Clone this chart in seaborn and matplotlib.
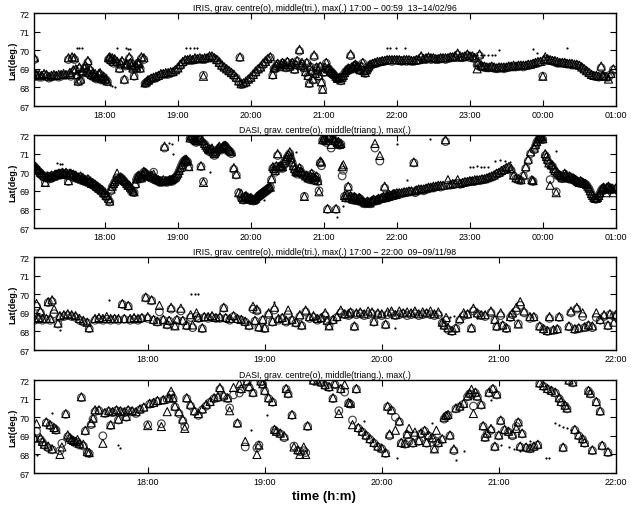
import numpy as np
import pandas as pd
import matplotlib
matplotlib.use("Agg")
import matplotlib.pyplot as plt
import seaborn as sns

# rows: (minutes after 17:00, grav. centre lat, middle lat)
iris96 = [
    (0, 68.6, 68.7), (1, 68.55, 68.65), (2, 69.5, 69.6), (3, 68.65, 68.7), (4, 68.6, 68.7),
    (6, 68.55, 68.7), (8, 68.55, 68.65), (10, 68.65, 68.75), (12, 68.6, 68.7), (14, 68.5, 68.6),
    (16, 68.55, 68.65), (18, 68.6, 68.7), (20, 68.6, 68.65), (22, 68.55, 68.7), (24, 68.6, 68.7),
    (26, 68.65, 68.75), (28, 68.65, 68.7), (30, 69.5, 69.6), (31, 68.7, 68.8), (32, 68.6, 68.7),
    (33, 69.55, 69.65), (34, 68.85, 68.95), (35, 69.5, 69.6), (36, 68.9, 69.0), (37, 68.6, 68.7),
    (38, 68.3, 68.35), (39, 69.0, 69.1), (40, 68.35, 68.45), (41, 68.75, 68.85), (42, 68.8, 68.9),
    (43, 69.0, 69.05), (44, 69.1, 69.2), (45, 68.8, 68.9), (46, 69.35, 69.45), (47, 68.7, 68.8),
    (48, 68.9, 69.0), (49, 68.6, 68.7), (50, 68.7, 68.8), (51, 68.55, 68.65), (52, 68.6, 68.75),
    (53, 68.45, 68.55), (54, 68.5, 68.6), (55, 68.65, 68.75), (56, 68.7, 68.8), (57, 68.4, 68.5),
    (58, 68.45, 68.5), (59, 68.55, 68.6), (60, 68.35, 68.45), (61, 68.4, 68.45), (62, 68.3, 68.35),
    (63, 69.5, 69.6), (64, 69.55, 69.65), (65, 69.4, 69.5), (66, 69.5, 69.6), (67, 69.3, 69.4),
    (68, 69.45, 69.55), (70, 69.3, 69.4), (72, 69.0, 69.05), (73, 69.2, 69.3), (74, 69.35, 69.45),
    (76, 68.4, 68.45), (77, 69.15, 69.25), (78, 69.2, 69.3), (80, 69.55, 69.65), (81, 69.3, 69.35),
    (82, 69.1, 69.2), (83, 68.95, 69.05), (84, 68.6, 68.65), (85, 69.1, 69.2), (86, 69.0, 69.1),
    (87, 69.3, 69.35), (88, 69.2, 69.3), (89, 69.0, 69.05), (90, 69.55, 69.65), (92, 69.5, 69.6),
    (93, 68.2, 68.25), (94, 68.25, 68.3), (95, 68.3, 68.4), (96, 68.35, 68.4), (98, 68.45, 68.5),
    (100, 68.5, 68.55), (102, 68.5, 68.6), (104, 68.6, 68.65), (106, 68.65, 68.75), (108, 68.7, 68.75),
    (110, 68.7, 68.8), (112, 68.7, 68.8), (114, 68.75, 68.85), (116, 68.8, 68.85), (118, 68.9, 68.95),
    (120, 69.0, 69.05), (122, 69.15, 69.25), (124, 69.3, 69.4), (126, 69.4, 69.5), (128, 69.45, 69.5),
    (130, 69.45, 69.55), (132, 69.45, 69.5), (134, 69.5, 69.6), (136, 69.5, 69.55), (138, 69.55, 69.6),
    (140, 69.5, 69.55), (141, 68.65, 68.6), (142, 69.5, 69.6), (144, 69.55, 69.6), (146, 69.6, 69.7),
    (148, 69.6, 69.7), (150, 69.55, 69.6), (152, 69.45, 69.5), (154, 69.3, 69.35), (156, 69.15, 69.2),
    (158, 69.05, 69.1), (160, 68.95, 69.0), (162, 68.85, 68.9), (164, 68.75, 68.8), (166, 68.6, 68.7),
    (168, 68.5, 68.55), (170, 68.3, 68.35), (171, 69.6, 69.65), (172, 68.15, 68.2), (174, 68.2, 68.25),
    (176, 68.25, 68.3), (178, 68.4, 68.45), (180, 68.5, 68.55), (182, 68.65, 68.7), (184, 68.8, 68.85),
    (186, 68.95, 69.0), (188, 69.05, 69.1), (190, 69.2, 69.3), (192, 69.35, 69.4), (194, 69.5, 69.55),
    (196, 69.6, 69.65), (198, 68.65, 68.7), (199, 69.0, 69.05), (200, 69.0, 69.1), (201, 69.15, 69.2),
    (202, 69.25, 69.3), (204, 69.1, 69.15), (205, 69.2, 69.25), (206, 69.3, 69.35), (208, 69.2, 69.25),
    (209, 69.05, 69.1), (210, 69.35, 69.4), (212, 69.1, 69.15), (213, 69.2, 69.25), (214, 69.3, 69.35),
    (216, 68.95, 69.0), (217, 69.2, 69.25), (218, 69.4, 69.45), (220, 69.95, 70.05), (221, 69.15, 69.2),
    (222, 69.25, 69.35), (224, 69.05, 69.1), (225, 68.8, 68.85), (226, 69.3, 69.35), (227, 68.6, 68.65),
    (228, 68.2, 68.25), (229, 69.1, 69.15), (230, 68.85, 68.9), (231, 68.4, 68.45), (232, 69.65, 69.75),
    (233, 68.7, 68.75), (234, 69.05, 69.1), (235, 68.9, 68.95), (236, 68.6, 68.65), (237, 69.1, 69.15),
    (238, 68.25, 68.3), (239, 67.9, 67.9), (240, 68.8, 68.85), (241, 69.0, 69.1), (242, 69.3, 69.35),
    (243, 68.95, 69.0), (244, 69.0, 69.05), (245, 68.8, 68.85), (246, 68.85, 68.9), (247, 68.75, 68.8),
    (248, 68.7, 68.75), (249, 68.6, 68.7), (250, 68.55, 68.6), (251, 68.45, 68.5), (252, 68.45, 68.5),
    (253, 68.5, 68.55), (254, 68.35, 68.4), (255, 68.5, 68.55), (256, 68.6, 68.65), (257, 68.75, 68.8),
    (258, 68.85, 68.9), (259, 68.9, 68.95), (260, 69.0, 69.05), (261, 68.95, 69.0), (262, 69.7, 69.8),
    (263, 69.05, 69.1), (264, 69.0, 69.1), (265, 69.15, 69.2), (266, 69.2, 69.25), (267, 69.05, 69.1),
    (268, 69.1, 69.15), (269, 68.95, 69.0), (270, 68.9, 68.95), (271, 69.1, 69.15), (272, 69.3, 69.35),
    (273, 68.85, 68.9), (274, 68.75, 68.8), (275, 68.9, 68.95), (276, 69.0, 69.05), (277, 69.1, 69.15),
    (278, 69.2, 69.25), (280, 69.25, 69.3), (282, 69.3, 69.35), (284, 69.3, 69.4), (286, 69.35, 69.4),
    (288, 69.4, 69.45), (290, 69.4, 69.45), (292, 69.45, 69.5), (294, 69.45, 69.5), (296, 69.4, 69.5),
    (298, 69.45, 69.5), (300, 69.45, 69.5), (302, 69.45, 69.5), (304, 69.4, 69.45), (306, 69.45, 69.5),
    (308, 69.4, 69.5), (310, 69.45, 69.5), (312, 69.4, 69.45), (314, 69.4, 69.45), (316, 69.45, 69.5),
    (318, 69.45, 69.5), (320, 69.6, 69.7), (322, 69.5, 69.55), (324, 69.5, 69.6), (326, 69.55, 69.65),
    (328, 69.5, 69.6), (330, 69.55, 69.6), (332, 69.5, 69.55), (334, 69.5, 69.55), (336, 69.55, 69.6),
    (338, 69.55, 69.6), (340, 69.5, 69.6), (342, 69.55, 69.6), (344, 69.6, 69.65), (346, 69.6, 69.65),
    (348, 69.6, 69.7), (350, 69.75, 69.85), (352, 69.6, 69.65), (354, 69.6, 69.65), (356, 69.65, 69.7),
    (358, 69.7, 69.8), (360, 69.6, 69.7), (362, 69.65, 69.7), (364, 69.55, 69.6), (366, 69.2, 69.0),
    (367, 69.3, 69.35), (368, 69.7, 69.8), (369, 69.15, 69.2), (370, 69.1, 69.15), (372, 69.1, 69.15),
    (374, 69.05, 69.1), (376, 69.05, 69.1), (378, 69.1, 69.15), (380, 69.05, 69.1), (382, 69.0, 69.05),
    (384, 69.05, 69.1), (386, 69.05, 69.1), (388, 69.0, 69.1), (390, 69.05, 69.1), (392, 69.1, 69.15),
    (394, 69.1, 69.15), (396, 69.1, 69.2), (398, 69.1, 69.15), (400, 69.15, 69.2), (402, 69.15, 69.2),
    (404, 69.1, 69.2), (406, 69.15, 69.2), (408, 69.2, 69.25), (410, 69.2, 69.25), (412, 69.25, 69.3),
    (414, 69.3, 69.35), (416, 69.3, 69.4), (418, 69.35, 69.4), (420, 68.6, 68.6), (421, 69.4, 69.5),
    (422, 69.5, 69.65), (424, 69.45, 69.55), (426, 69.45, 69.5), (428, 69.4, 69.45), (430, 69.35, 69.45),
    (432, 69.3, 69.4), (434, 69.3, 69.35), (436, 69.3, 69.35), (438, 69.3, 69.35), (440, 69.25, 69.3),
    (442, 69.25, 69.3), (444, 69.2, 69.3), (446, 69.2, 69.25), (448, 69.2, 69.25), (450, 69.15, 69.2),
    (452, 69.05, 69.1), (454, 68.95, 69.0), (456, 68.85, 68.9), (458, 68.75, 68.8), (460, 68.65, 68.7),
    (462, 68.6, 68.65), (464, 68.6, 68.65), (466, 68.55, 68.6), (468, 69.05, 69.15), (469, 68.6, 68.65),
    (470, 68.6, 68.65), (472, 68.55, 68.6), (474, 68.55, 68.45), (476, 68.7, 68.75), (478, 68.95, 69.0),
]
iris96_max = [
    (4, 69.5), (37, 70.1), (39, 70.1), (41, 70.1), (64, 68.15), (66, 68.05), (68, 68.0), (70, 70.1),
    (77, 70.1), (79, 70.05), (81, 70.05), (127, 70.1), (130, 70.1), (133, 70.1), (136, 70.1),
    (292, 70.1), (294, 70.1), (299, 70.1), (307, 70.1), (363, 69.72), (366, 69.72), (369, 69.72),
    (372, 69.72), (375, 69.72), (378, 69.72), (381, 69.72), (384, 70.0), (412, 70.05), (415, 69.85),
    (440, 70.1),
]

dasi96 = [
    (0, 70.4, 70.5), (1, 70.35, 70.45), (2, 70.3, 70.35), (3, 70.2, 70.3), (4, 70.15, 70.2),
    (5, 70.05, 70.15), (6, 70.0, 70.1), (7, 69.9, 70.0), (8, 69.85, 69.95), (9, 69.8, 69.9),
    (10, 69.75, 69.8), (11, 69.45, 69.45), (12, 69.8, 69.75), (13, 69.7, 69.8), (14, 69.75, 69.7),
    (15, 69.65, 69.75), (16, 69.8, 69.85), (17, 69.7, 69.8), (18, 69.75, 69.8), (19, 69.8, 69.9),
    (20, 69.85, 69.9), (21, 69.8, 69.9), (22, 69.9, 69.95), (23, 69.85, 69.95), (24, 69.85, 69.9),
    (25, 69.95, 70.0), (26, 69.9, 69.95), (27, 69.85, 69.9), (28, 69.95, 70.0), (29, 69.8, 69.9),
    (30, 69.5, 69.55), (31, 69.85, 69.95), (32, 69.9, 69.95), (33, 69.75, 69.85), (34, 69.85, 69.9),
    (35, 69.7, 69.8), (36, 69.75, 69.85), (37, 69.65, 69.75), (38, 69.7, 69.75), (39, 69.6, 69.7),
    (40, 69.75, 69.8), (41, 69.55, 69.65), (42, 69.65, 69.7), (43, 69.5, 69.6), (44, 69.55, 69.6),
    (45, 69.45, 69.55), (46, 69.6, 69.65), (47, 69.4, 69.5), (48, 69.45, 69.5), (49, 69.35, 69.4),
    (50, 69.4, 69.45), (51, 69.25, 69.35), (52, 69.3, 69.35), (53, 69.15, 69.25), (54, 69.2, 69.25),
    (55, 69.05, 69.15), (56, 69.1, 69.15), (57, 68.95, 69.05), (58, 69.0, 69.05), (59, 68.8, 68.9),
    (60, 68.85, 68.9), (61, 68.65, 68.75), (62, 68.7, 68.75), (63, 68.5, 68.6), (64, 68.4, 68.45),
    (65, 69.0, 69.1), (66, 69.2, 69.25), (67, 69.3, 69.4), (68, 69.45, 69.5), (69, 69.55, 69.6),
    (70, 69.7, 69.95), (71, 69.6, 69.7), (72, 69.6, 69.65), (73, 69.7, 69.75), (74, 69.65, 69.7),
    (75, 69.55, 69.6), (76, 69.5, 69.55), (77, 69.4, 69.5), (78, 69.35, 69.4), (79, 69.25, 69.3),
    (80, 69.2, 69.3), (81, 69.1, 69.2), (82, 69.05, 69.1), (83, 68.95, 69.0), (84, 68.9, 68.95),
    (85, 69.3, 69.4), (86, 69.6, 69.65), (87, 69.75, 69.8), (88, 69.8, 69.85), (89, 69.7, 69.75),
    (90, 69.65, 69.7), (91, 69.85, 69.9), (92, 70.0, 70.05), (93, 69.95, 70.0), (94, 69.9, 69.95),
    (95, 69.8, 69.85), (96, 69.75, 69.8), (97, 69.7, 69.8), (98, 69.8, 69.85), (99, 69.65, 69.75),
    (100, 70.0, 69.9), (101, 69.6, 69.7), (102, 69.6, 69.65), (103, 69.55, 69.6), (104, 69.55, 69.6),
    (105, 69.45, 69.55), (106, 69.5, 69.55), (107, 69.45, 69.5), (108, 69.55, 69.6), (109, 71.3, 71.4),
    (110, 69.5, 69.55), (111, 69.45, 69.55), (112, 69.5, 69.55), (113, 69.5, 69.6), (114, 69.55, 69.6),
    (115, 69.5, 69.6), (116, 69.6, 69.65), (117, 69.65, 69.7), (118, 69.7, 69.75), (119, 69.8, 69.85),
    (120, 69.9, 69.95), (121, 70.05, 70.1), (122, 70.2, 70.25), (123, 70.35, 70.4), (124, 70.5, 70.55),
    (125, 70.6, 70.65), (126, 70.65, 70.7), (127, 70.6, 70.7), (128, 70.55, 70.6), (129, 70.3, 70.3),
    (130, 71.8, 71.85), (131, 71.9, 71.95), (132, 71.9, 71.95), (133, 71.75, 71.85), (134, 71.7, 71.75),
    (135, 71.6, 71.7), (136, 71.65, 71.7), (137, 71.75, 71.8), (138, 71.8, 71.85), (139, 70.3, 70.35),
    (140, 71.6, 71.7), (141, 69.5, 69.45), (142, 71.5, 71.55), (143, 71.4, 71.45), (144, 71.3, 71.35),
    (145, 71.2, 71.25), (146, 71.1, 71.2), (147, 71.15, 71.25), (148, 71.2, 71.3), (149, 71.0, 71.1),
    (150, 70.9, 71.0), (151, 71.0, 71.1), (152, 71.1, 71.2), (153, 71.2, 71.3), (154, 71.3, 71.4),
    (155, 71.25, 71.3), (156, 71.2, 71.3), (157, 71.3, 71.4), (158, 71.35, 71.45), (159, 71.4, 71.45),
    (160, 71.3, 71.4), (161, 71.2, 71.3), (162, 71.15, 71.2), (163, 71.1, 71.15), (164, 71.0, 71.1),
    (166, 70.15, 70.25), (168, 69.85, 69.9), (170, 68.9, 68.9), (172, 68.6, 68.85), (173, 68.55, 68.65),
    (174, 68.5, 68.55), (175, 68.65, 68.7), (176, 68.7, 68.75), (177, 68.6, 68.65), (178, 68.55, 68.6),
    (179, 68.5, 68.6), (180, 68.6, 68.65), (181, 68.5, 68.55), (182, 68.45, 68.5), (183, 68.5, 68.55),
    (184, 68.55, 68.6), (185, 68.6, 68.7), (186, 68.7, 68.75), (187, 68.75, 68.8), (188, 68.8, 68.85),
    (189, 68.85, 68.9), (190, 68.9, 68.95), (191, 68.95, 69.0), (192, 69.0, 69.05), (193, 69.05, 69.1),
    (194, 69.1, 69.15), (195, 69.15, 69.2), (196, 69.2, 69.2), (197, 69.6, 69.65), (198, 70.2, 70.3),
    (199, 70.1, 70.2), (200, 70.0, 70.1), (201, 70.3, 70.35), (202, 70.9, 71.0), (203, 70.2, 70.3),
    (204, 70.3, 70.35), (205, 70.25, 70.3), (206, 70.2, 70.3), (207, 70.45, 70.5), (208, 70.6, 70.65),
    (209, 70.7, 70.75), (210, 70.8, 70.85), (211, 70.9, 70.95), (212, 71.0, 71.1), (213, 70.7, 70.8),
    (214, 70.5, 70.55), (215, 70.3, 70.35), (216, 70.1, 70.2), (217, 70.0, 70.05), (218, 69.9, 70.0),
    (219, 70.05, 70.1), (220, 70.2, 70.25), (221, 70.0, 70.05), (222, 69.95, 70.0), (223, 69.85, 69.9),
    (224, 68.7, 68.7), (225, 69.75, 69.8), (226, 69.8, 69.85), (227, 69.65, 69.7), (228, 69.6, 69.7),
    (229, 69.75, 69.8), (230, 69.9, 69.95), (231, 69.7, 69.75), (232, 69.55, 69.6), (233, 69.6, 69.7),
    (234, 69.75, 69.8), (235, 69.5, 69.55), (236, 69.0, 68.95), (237, 70.5, 70.6), (238, 70.35, 70.55),
    (239, 71.7, 71.75), (240, 71.8, 71.85), (241, 71.7, 71.8), (242, 71.6, 71.7), (243, 68.0, 68.05),
    (244, 71.85, 71.9), (245, 71.9, 71.95), (246, 71.3, 71.5), (247, 71.8, 71.85), (248, 71.75, 71.8),
    (249, 71.65, 71.7), (250, 68.0, 68.05), (251, 71.55, 71.6), (252, 71.6, 71.65), (253, 71.45, 71.5),
    (254, 71.5, 71.55), (255, 69.8, 70.3), (256, 70.1, 70.4), (257, 68.7, 68.75), (258, 68.6, 68.65),
    (259, 68.75, 68.8), (260, 69.2, 69.25), (261, 68.6, 68.65), (262, 68.7, 68.75), (263, 68.55, 68.6),
    (264, 68.5, 68.55), (265, 68.65, 68.7), (266, 68.6, 68.65), (267, 68.5, 68.55), (268, 68.45, 68.5),
    (269, 68.6, 68.65), (270, 68.55, 68.6), (271, 68.45, 68.5), (272, 68.4, 68.45), (273, 68.35, 68.4),
    (274, 68.3, 68.35), (275, 68.35, 68.4), (276, 68.4, 68.45), (277, 68.35, 68.4), (278, 68.3, 68.35),
    (279, 68.4, 68.45), (280, 68.45, 68.5), (281, 68.5, 68.55), (282, 71.3, 71.55), (283, 68.45, 68.5),
    (284, 68.5, 68.55), (285, 68.55, 68.6), (286, 70.6, 70.9), (287, 68.55, 68.6), (288, 68.6, 68.65),
    (289, 68.65, 68.7), (290, 69.15, 69.25), (291, 68.6, 68.65), (292, 68.7, 68.75), (293, 68.65, 68.7),
    (294, 68.75, 68.8), (295, 68.7, 68.75), (296, 68.7, 68.75), (297, 68.8, 68.85), (298, 68.8, 68.85),
    (299, 68.75, 68.8), (300, 68.85, 68.9), (302, 68.8, 68.9), (304, 68.85, 68.9), (306, 68.9, 68.95),
    (308, 68.9, 68.95), (310, 68.95, 69.0), (312, 68.95, 69.0), (314, 70.5, 70.55), (315, 68.9, 69.0),
    (316, 69.0, 69.05), (318, 69.05, 69.1), (320, 69.05, 69.1), (322, 69.0, 69.1), (324, 69.1, 69.15),
    (326, 69.1, 69.2), (328, 69.15, 69.2), (330, 69.15, 69.25), (332, 69.2, 69.25), (334, 69.25, 69.3),
    (336, 69.2, 69.3), (338, 69.25, 69.3), (340, 71.65, 71.75), (342, 69.3, 69.6), (344, 69.3, 69.35),
    (346, 69.35, 69.4), (348, 69.35, 69.4), (350, 69.4, 69.6), (352, 69.35, 69.4), (354, 69.4, 69.45),
    (356, 69.45, 69.5), (358, 69.45, 69.5), (360, 69.5, 69.55), (362, 69.5, 69.55), (364, 69.5, 69.6),
    (366, 69.55, 69.6), (368, 69.55, 69.6), (370, 69.6, 69.65), (372, 69.6, 69.65), (374, 69.65, 69.7),
    (376, 69.7, 69.75), (378, 69.75, 69.8), (380, 69.8, 69.85), (382, 69.9, 69.95), (384, 69.95, 70.0),
    (386, 70.0, 70.1), (388, 70.1, 70.15), (390, 70.2, 70.25), (392, 70.25, 70.3), (394, 70.1, 70.2),
    (396, 69.8, 69.85), (398, 69.65, 69.7), (400, 69.6, 69.65), (402, 69.55, 69.6), (404, 69.8, 69.85),
    (406, 70.2, 70.3), (408, 70.6, 70.7), (410, 71.0, 71.1), (411, 69.55, 69.6), (412, 69.5, 69.55),
    (413, 71.2, 71.3), (414, 71.4, 71.5), (415, 71.6, 71.65), (416, 71.7, 71.8), (417, 71.8, 71.9),
    (418, 71.85, 71.95), (419, 71.8, 71.9), (420, 71.75, 71.8), (422, 70.9, 71.0), (423, 70.8, 70.85),
    (424, 70.6, 70.7), (425, 70.45, 70.5), (426, 69.6, 69.3), (427, 70.35, 70.4), (428, 70.3, 70.4),
    (429, 70.15, 70.2), (430, 70.0, 70.1), (431, 68.95, 68.9), (432, 69.9, 70.0), (433, 69.85, 69.9),
    (434, 69.8, 69.85), (435, 69.7, 69.8), (436, 69.65, 69.7), (437, 69.75, 69.8), (438, 69.9, 69.95),
    (439, 69.8, 69.85), (440, 69.7, 69.75), (441, 69.65, 69.7), (442, 69.75, 69.8), (443, 69.7, 69.75),
    (444, 69.6, 69.65), (445, 69.65, 69.7), (446, 69.6, 69.65), (447, 69.55, 69.6), (448, 69.5, 69.55),
    (449, 69.45, 69.5), (450, 69.4, 69.45), (451, 69.5, 69.55), (452, 69.45, 69.5), (453, 69.4, 69.45),
    (454, 69.35, 69.4), (455, 69.35, 69.4), (456, 69.3, 69.35), (457, 69.2, 69.25), (458, 69.1, 69.15),
    (459, 68.95, 69.0), (460, 68.8, 68.85), (461, 68.7, 68.75), (462, 68.6, 68.65), (463, 68.55, 68.6),
    (464, 68.55, 68.6), (465, 68.6, 68.65), (466, 68.7, 68.75), (467, 68.85, 68.9), (468, 69.0, 69.05),
    (469, 69.1, 69.15), (470, 69.15, 69.2), (471, 69.05, 69.1), (472, 69.1, 68.9), (473, 69.15, 69.2),
    (474, 69.2, 69.25), (475, 69.1, 69.15), (476, 69.05, 69.1), (477, 69.1, 69.15), (478, 69.1, 68.9),
    (480, 69.1, 69.15),
]
dasi96_max = [
    (21, 70.5), (23, 70.45), (25, 70.45), (113, 71.55), (115, 71.5), (116, 71.0), (146, 70.0),
    (191, 68.5), (217, 71.1), (251, 67.6), (256, 68.2), (300, 71.5), (308, 69.6), (327, 71.8),
    (360, 70.3), (363, 70.3), (366, 70.32), (369, 70.3), (372, 70.28), (375, 70.3), (381, 70.6),
    (385, 70.65), (389, 70.6), (393, 70.55), (418, 71.85), (420, 71.9), (431, 71.15),
]

iris98 = [
    (2, 68.6, 68.7), (3, 69.35, 69.5), (4, 68.65, 68.75), (5, 69.0, 69.1), (6, 68.6, 68.7),
    (8, 68.65, 68.7), (9, 69.55, 69.6), (10, 68.6, 68.7), (11, 69.6, 69.7), (12, 68.95, 69.2),
    (14, 68.4, 68.45), (15, 68.75, 68.85), (17, 68.8, 68.9), (19, 68.85, 68.95), (21, 68.8, 68.9),
    (23, 68.75, 68.85), (25, 68.6, 68.7), (27, 68.5, 68.6), (29, 68.45, 68.5), (30, 68.15, 68.2),
    (33, 68.6, 68.7), (35, 68.65, 68.75), (37, 68.6, 68.7), (39, 68.65, 68.8), (41, 68.6, 68.7),
    (43, 68.65, 68.7), (45, 68.6, 68.7), (47, 69.45, 69.5), (48, 68.65, 68.7), (50, 69.35, 69.4),
    (51, 68.6, 68.7), (53, 68.65, 68.75), (55, 68.6, 68.7), (57, 68.7, 68.75), (59, 69.8, 69.85),
    (60, 68.7, 68.8), (62, 69.65, 69.7), (63, 68.6, 68.65), (65, 68.5, 68.55), (66, 69.05, 69.4),
    (68, 68.6, 68.65), (70, 68.35, 68.4), (71, 68.55, 68.6), (72, 69.2, 69.3), (74, 68.3, 68.3),
    (75, 68.6, 68.65), (77, 69.1, 69.25), (78, 68.55, 68.6), (80, 68.3, 68.35), (82, 68.75, 68.9),
    (83, 68.2, 68.35), (85, 68.8, 69.0), (86, 68.7, 68.75), (88, 68.15, 68.2), (89, 68.75, 68.8),
    (91, 68.7, 68.8), (93, 68.75, 68.85), (95, 68.7, 68.75), (97, 68.7, 68.8), (99, 69.25, 69.3),
    (100, 68.7, 68.75), (102, 68.6, 68.7), (104, 68.8, 68.85), (106, 68.65, 68.7), (108, 68.6, 68.65),
    (110, 68.5, 68.55), (112, 68.3, 68.35), (114, 69.2, 69.35), (115, 68.55, 68.6), (116, 69.1, 69.2),
    (117, 68.2, 68.25), (119, 68.6, 68.65), (120, 68.15, 68.2), (122, 68.9, 69.0), (124, 68.5, 68.55),
    (125, 69.15, 69.3), (127, 68.6, 68.7), (129, 68.7, 68.75), (131, 68.5, 68.6), (132, 68.9, 69.15),
    (134, 68.6, 68.65), (136, 68.45, 68.5), (138, 68.8, 68.9), (139, 68.3, 68.35), (141, 69.05, 69.15),
    (143, 68.7, 68.8), (145, 68.75, 68.85), (147, 68.6, 68.7), (149, 68.7, 68.75), (151, 68.85, 69.0),
    (152, 68.55, 68.6), (153, 68.3, 68.3), (155, 68.6, 68.65), (157, 68.75, 68.8), (159, 69.0, 69.15),
    (161, 68.9, 68.95), (163, 68.85, 68.95), (164, 69.0, 69.05), (166, 68.25, 68.3), (167, 68.9, 69.0),
    (169, 68.95, 69.05), (171, 68.85, 68.95), (173, 68.9, 69.1), (175, 68.95, 69.05), (176, 68.5, 68.55),
    (178, 68.9, 69.0), (180, 68.85, 68.95), (182, 68.35, 68.4), (183, 68.9, 69.05), (185, 68.95, 69.1),
    (187, 68.85, 68.9), (189, 68.9, 69.1), (191, 68.95, 69.0), (193, 68.85, 69.05), (195, 68.9, 69.0),
    (197, 68.95, 69.1), (199, 68.85, 68.95), (201, 68.9, 69.05), (203, 68.95, 69.0), (205, 68.9, 69.1),
    (207, 68.85, 68.95), (209, 68.9, 69.05), (211, 68.45, 68.5), (212, 68.3, 68.35), (213, 68.6, 68.75),
    (214, 68.1, 68.2), (216, 68.0, 68.05), (218, 68.15, 68.2), (220, 68.6, 68.7), (222, 68.85, 69.0),
    (224, 68.9, 68.95), (226, 68.15, 68.2), (227, 69.1, 69.25), (229, 68.95, 69.0), (231, 68.85, 68.9),
    (233, 68.8, 68.9), (236, 69.0, 69.1), (238, 68.6, 68.65), (239, 68.25, 68.3), (241, 68.85, 69.0),
    (242, 68.3, 68.35), (244, 68.15, 68.2), (246, 68.75, 68.8), (247, 68.9, 69.0), (249, 69.1, 69.3),
    (250, 68.4, 68.4), (251, 69.4, 69.6), (253, 69.0, 69.1), (256, 68.7, 68.8), (258, 68.75, 68.8),
    (261, 68.25, 68.3), (263, 68.1, 68.15), (265, 68.0, 68.05), (266, 68.7, 68.8), (268, 68.05, 68.1),
    (270, 68.1, 68.15), (271, 68.75, 68.8), (276, 68.25, 68.3), (277, 69.0, 69.1), (279, 68.1, 68.15),
    (280, 69.2, 69.3), (281, 68.15, 68.2), (283, 68.8, 69.0), (284, 68.2, 68.25), (286, 68.3, 68.35),
    (288, 68.2, 68.3), (290, 68.75, 69.0), (292, 68.6, 68.65), (294, 68.8, 68.9), (296, 68.3, 68.35),
    (297, 68.9, 68.95), (299, 68.8, 68.5), (300, 68.85, 68.9),
]
iris98_max = [
    (15, 68.1), (40, 69.7), (82, 70.0), (84, 70.0), (86, 70.0), (125, 69.6), (187, 68.2),
    (215, 68.8), (217, 68.85), (229, 68.7),
]

dasi98 = [
    (2, 68.85, 68.9), (3, 69.25, 69.65), (5, 68.8, 68.9), (6, 68.65, 68.7), (7, 68.5, 68.55),
    (8, 69.7, 69.75), (9, 68.35, 68.45), (10, 69.55, 69.6), (11, 68.25, 68.3), (12, 69.4, 69.45),
    (13, 69.3, 69.35), (15, 68.2, 68.0), (16, 68.6, 68.4), (18, 70.15, 70.2), (19, 68.95, 69.05),
    (20, 68.85, 68.9), (21, 68.75, 68.8), (22, 68.7, 68.75), (23, 68.6, 68.7), (24, 68.65, 68.8),
    (25, 68.5, 68.6), (26, 71.05, 71.1), (27, 68.45, 68.55), (28, 69.25, 69.3), (29, 68.1, 68.15),
    (30, 68.05, 68.1), (31, 69.6, 69.7), (32, 69.9, 69.95), (33, 70.3, 70.4), (35, 70.35, 70.4),
    (37, 69.0, 68.6), (38, 70.2, 70.25), (40, 70.3, 70.35), (41, 69.55, 69.6), (42, 70.25, 70.3),
    (44, 70.35, 70.4), (45, 69.85, 69.9), (46, 70.3, 70.35), (48, 70.25, 70.3), (49, 70.0, 70.05),
    (50, 70.35, 70.4), (52, 70.3, 70.35), (54, 70.2, 70.3), (56, 70.4, 70.45), (58, 70.5, 70.55),
    (60, 69.6, 69.55), (61, 70.7, 70.75), (63, 70.75, 70.8), (65, 70.85, 70.9), (67, 69.65, 69.5),
    (68, 70.9, 70.95), (70, 70.95, 70.3), (71, 71.0, 71.05), (72, 71.2, 71.4), (73, 71.0, 71.05),
    (74, 70.55, 70.6), (76, 70.2, 70.3), (78, 69.8, 69.9), (79, 69.5, 69.4), (80, 71.0, 71.05),
    (82, 70.6, 70.7), (84, 70.3, 70.35), (86, 70.1, 70.2), (88, 70.4, 70.45), (90, 70.6, 70.7),
    (92, 70.8, 70.85), (94, 71.0, 71.05), (96, 71.05, 71.1), (97, 71.5, 71.6), (99, 71.1, 71.2),
    (101, 71.0, 71.05), (102, 70.5, 70.35), (104, 71.2, 71.6), (106, 69.65, 69.7), (107, 71.3, 71.8),
    (108, 71.5, 71.55), (110, 68.4, 68.7), (111, 71.9, 71.95), (112, 71.6, 71.65), (114, 71.3, 71.35),
    (116, 68.35, 68.0), (117, 68.5, 68.5), (118, 71.9, 71.95), (119, 71.75, 71.8), (120, 71.4, 71.45),
    (122, 71.0, 71.05), (124, 70.8, 70.85), (125, 69.3, 69.35), (126, 69.2, 69.25), (128, 69.1, 69.15),
    (130, 68.9, 69.0), (131, 71.5, 71.55), (132, 71.25, 71.3), (134, 70.1, 70.15), (135, 68.45, 68.4),
    (137, 68.2, 68.25), (138, 68.15, 68.0), (140, 68.2, 68.4), (141, 68.1, 68.0), (142, 69.5, 69.55),
    (145, 71.95, 72.0), (147, 72.0, 71.95), (149, 71.85, 71.9), (151, 71.7, 71.75), (153, 71.6, 71.65),
    (155, 71.0, 71.05), (156, 71.75, 71.8), (158, 70.35, 70.2), (159, 71.5, 71.55), (161, 71.35, 71.75),
    (163, 70.75, 70.8), (164, 70.7, 70.75), (165, 69.85, 69.6), (167, 71.5, 71.55), (168, 69.4, 69.45),
    (170, 69.2, 69.25), (172, 69.0, 69.05), (174, 68.8, 68.85), (176, 68.6, 68.65), (178, 68.4, 68.45),
    (180, 68.3, 68.35), (182, 68.05, 68.1), (183, 70.55, 70.6), (184, 69.0, 69.1), (185, 70.35, 70.4),
    (187, 70.0, 69.3), (189, 69.75, 69.8), (190, 68.6, 68.65), (192, 68.55, 68.6), (193, 69.05, 69.1),
    (194, 68.7, 69.4), (196, 68.6, 68.65), (197, 69.0, 69.2), (199, 68.7, 68.75), (200, 69.1, 69.15),
    (202, 69.25, 69.3), (203, 68.6, 68.65), (204, 69.0, 69.05), (206, 68.85, 68.9), (207, 68.3, 68.3),
    (208, 68.7, 69.3), (209, 68.6, 68.65), (211, 68.8, 68.85), (212, 69.9, 70.0), (213, 70.05, 70.1),
    (214, 70.1, 70.15), (215, 69.0, 69.05), (217, 68.2, 68.3), (218, 70.45, 70.5), (220, 70.55, 70.6),
    (222, 70.7, 70.75), (224, 71.1, 71.15), (225, 71.25, 71.3), (226, 71.2, 71.5), (227, 70.6, 70.2),
    (228, 71.3, 71.35), (229, 71.1, 71.15), (231, 70.65, 70.7), (232, 69.5, 69.55), (233, 68.9, 68.95),
    (234, 69.1, 69.15), (235, 71.3, 71.35), (236, 69.3, 69.4), (237, 71.5, 71.55), (238, 68.4, 68.45),
    (239, 71.2, 71.25), (240, 69.0, 69.05), (241, 69.8, 69.85), (243, 69.3, 69.35), (245, 69.2, 69.25),
    (247, 69.0, 69.1), (249, 69.5, 69.4), (250, 69.7, 69.75), (251, 68.4, 68.45), (252, 69.1, 69.15),
    (254, 68.35, 68.4), (256, 68.3, 68.35), (258, 68.4, 68.45), (260, 68.5, 68.55), (261, 71.8, 71.85),
    (263, 71.65, 71.7), (265, 71.5, 71.55), (267, 71.4, 71.45), (269, 71.3, 71.35), (271, 71.0, 71.05),
    (272, 70.8, 70.85), (273, 68.35, 68.4), (274, 70.6, 70.65), (275, 70.45, 70.5), (276, 71.95, 72.0),
    (278, 71.85, 71.9), (279, 69.3, 69.35), (281, 69.0, 69.05), (283, 68.8, 68.85), (284, 68.6, 68.65),
    (286, 71.4, 71.45), (287, 71.25, 71.3), (288, 68.2, 68.25), (290, 70.8, 70.85), (292, 70.3, 70.35),
    (293, 68.45, 68.5), (296, 68.1, 68.15),
]
dasi98_max = [
    (3, 67.95), (11, 70.2), (45, 68.5), (46, 68.35), (113, 69.3), (121, 70.1), (171, 69.8),
    (188, 67.8), (206, 69.7), (218, 67.7), (222, 68.2), (236, 70.9), (241, 68.5), (245, 68.4),
    (248, 68.3), (251, 68.2), (256, 68.7), (264, 67.8), (266, 67.8), (269, 69.7), (271, 69.6),
    (273, 69.5), (275, 69.4), (277, 69.3),
]

titles = [
    "IRIS, grav. centre(o), middle(tri.), max(.) 17:00 \u2212 00:59  13\u221214/02/96",
    "DASI, grav. centre(o), middle(triang.), max(.)",
    "IRIS, grav. centre(o), middle(tri.), max(.) 17:00 \u2212 22:00  09\u221209/11/98",
    "DASI, grav. centre(o), middle(triang.), max(.)",
]
panels = [(iris96, iris96_max, 25), (dasi96, dasi96_max, 25),
          (iris98, iris98_max, 22), (dasi98, dasi98_max, 22)]

sns.set_style("ticks")
plt.rcParams['font.family'] = ['Liberation Sans', 'DejaVu Sans']
plt.rcParams['font.size'] = 6.5
plt.rcParams['text.color'] = 'black'
plt.rcParams['axes.edgecolor'] = 'black'
plt.rcParams['xtick.color'] = 'black'
plt.rcParams['ytick.color'] = 'black'
plt.rcParams['axes.labelcolor'] = 'black'

fig = plt.figure(figsize=(6.31, 5.06), dpi=100)
bottoms = [0.7885, 0.5474, 0.3063, 0.0632]

for i, ((rows, maxrows, end), title) in enumerate(zip(panels, titles)):
    ax = fig.add_axes([0.0539, bottoms[i], 0.922, 0.1838])
    df = pd.DataFrame(rows, columns=["min", "centre", "middle"])
    df["hour"] = 17 + df["min"] / 60
    mx = pd.DataFrame(maxrows, columns=["min", "lat"])
    mx["hour"] = 17 + mx["min"] / 60

    sns.scatterplot(data=df, x="hour", y="centre", marker="o", s=30, facecolor="none",
                    edgecolor="#444444", linewidth=0.85, ax=ax)
    sns.scatterplot(data=df, x="hour", y="middle", marker="^", s=34, facecolor="none",
                    edgecolor="black", linewidth=0.75, ax=ax)
    sns.scatterplot(data=mx, x="hour", y="lat", marker="o", s=2.5, color="black",
                    linewidth=0, ax=ax)

    ax.set_xlim(17 + 1.7 / 60, end)
    ax.set_ylim(67, 72)
    hours = np.arange(18, end + 1)
    ax.set_xticks(hours)
    ax.set_xticklabels([f"{h % 24:02d}:00" for h in hours])
    ax.set_yticks(range(67, 73))
    ax.tick_params(direction="in", length=4, width=0.8, top=True, right=True,
                   labelsize=6.5, pad=3)
    for sp in ax.spines.values():
        sp.set_linewidth(1.0)
    ax.set_xlabel("")
    ax.set_ylabel("Lat(deg.)", fontweight="bold", fontsize=6.5, labelpad=2)
    ax.set_title(title, fontsize=6.3, pad=2.5)

fig.text(0.513, 0.005, "time (h:m)", ha="center", va="bottom", fontsize=9.5, fontweight="bold")

fig.savefig("out.png", dpi=100)
